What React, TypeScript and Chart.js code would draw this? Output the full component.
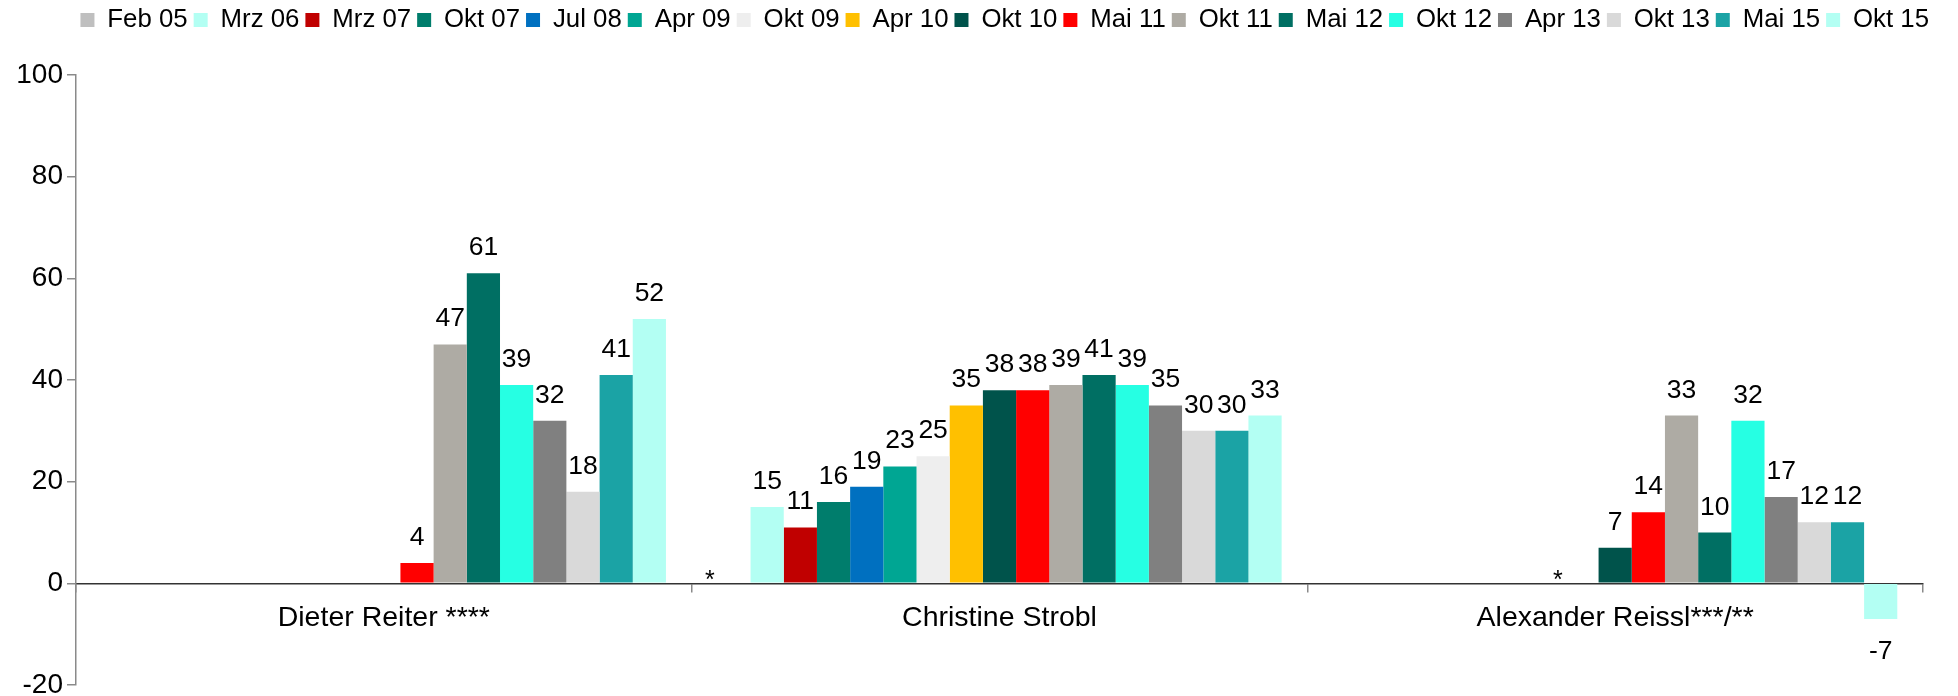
import React, { useEffect, useRef } from 'react';
import { Chart, registerables } from 'chart.js';

Chart.register(...registerables);

const FONT = "'Liberation Sans', Arial, sans-serif";

// Categories (x axis)
const categories = ['Dieter Reiter ****', 'Christine Strobl', 'Alexander Reissl***/**'];

// Series (survey dates)
const seriesLabels = [
  'Feb 05', 'Mrz 06', 'Mrz 07', 'Okt 07', 'Jul 08', 'Apr 09', 'Okt 09', 'Apr 10',
  'Okt 10', 'Mai 11', 'Okt 11', 'Mai 12', 'Okt 12', 'Apr 13', 'Okt 13', 'Mai 15', 'Okt 15',
];

const seriesColors = [
  '#BFBFBF', '#B3FFF3', '#C00000', '#007D6C', '#0070C0', '#00A693', '#EEEEEE', '#FFC000',
  '#00534B', '#FF0000', '#AEABA4', '#006F63', '#26FFE3', '#808080', '#D9D9D9', '#1BA3A5', '#B3FFF3',
];

// Values per series: [Dieter Reiter, Christine Strobl, Alexander Reissl]
const feb05 = [null, null, null];
const mrz06 = [null, 15, null];
const mrz07 = [null, 11, null];
const okt07 = [null, 16, null];
const jul08 = [null, 19, null];
const apr09 = [null, 23, null];
const okt09 = [null, 25, null];
const apr10 = [null, 35, null];
const okt10 = [null, 38, 7];
const mai11 = [4, 38, 14];
const okt11 = [47, 39, 33];
const mai12 = [61, 41, 10];
const okt12 = [39, 39, 32];
const apr13 = [32, 35, 17];
const okt13 = [18, 30, 12];
const mai15 = [41, 30, 12];
const okt15 = [52, 33, -7];

const seriesValues = [
  feb05, mrz06, mrz07, okt07, jul08, apr09, okt09, apr10,
  okt10, mai11, okt11, mai12, okt12, apr13, okt13, mai15, okt15,
];

// "*" markers: [category index, series index]
const starMarks = [
  [1, 0],
  [2, 7],
];

// Y axis ticks
const yMin = -20;
const yMax = 100;
const yStep = 20;

const valueLabelPlugin = {
  id: 'valueLabels',
  afterDatasetsDraw(chart: any) {
    const ctx = chart.ctx;
    ctx.save();
    ctx.font = `26.5px ${FONT}`;
    ctx.fillStyle = '#000000';
    ctx.textAlign = 'center';
    ctx.textBaseline = 'alphabetic';
    chart.data.datasets.forEach((ds: any, di: number) => {
      const meta = chart.getDatasetMeta(di);
      meta.data.forEach((el: any, i: number) => {
        const v = ds.data[i];
        if (v === null || v === undefined) return;
        if (v >= 0) ctx.fillText(String(v), el.x, el.y - 18);
        else ctx.fillText(String(v), el.x, el.y + 40);
      });
    });
    ctx.font = `25px ${FONT}`;
    const zeroY = chart.scales.y.getPixelForValue(0);
    starMarks.forEach(([cat, ser]) => {
      const el = chart.getDatasetMeta(ser).data[cat];
      if (el) ctx.fillText('*', el.x - 24, zeroY + 5);
    });
    ctx.restore();
  },
};

export default function App() {
  const canvasRef = useRef<HTMLCanvasElement | null>(null);

  useEffect(() => {
    const canvas = canvasRef.current;
    if (!canvas) return;
    const chart = new Chart(canvas, {
      type: 'bar',
      data: {
        labels: categories,
        datasets: seriesLabels.map((label, i) => ({
          label,
          data: seriesValues[i],
          backgroundColor: seriesColors[i],
          borderWidth: 0,
          categoryPercentage: 0.9165,
          barPercentage: 1.0,
        })),
      },
      options: {
        responsive: false,
        animation: false,
        devicePixelRatio: 1,
        layout: { padding: { left: 9, right: 23, top: 1, bottom: 11 } },
        plugins: {
          legend: {
            display: true,
            position: 'top',
            align: 'end',
            labels: {
              boxWidth: 14,
              boxHeight: 14,
              padding: 6,
              color: '#000000',
              font: { family: FONT, size: 25.8 },
            },
          },
          tooltip: { enabled: false },
        },
        scales: {
          x: {
            type: 'category',
            position: { y: 0 },
            offset: true,
            grid: {
              offset: true,
              drawOnChartArea: false,
              drawTicks: true,
              tickLength: 8,
              color: '#8a8a8a',
              lineWidth: 1.5,
            },
            border: { display: true, color: '#333333', width: 1.5 },
            ticks: {
              color: '#000000',
              padding: 10,
              maxRotation: 0,
              autoSkip: false,
              font: { family: FONT, size: 28.5 },
            },
          },
          xTop: {
            axis: 'x',
            type: 'category',
            position: 'top',
            display: true,
            grid: { display: false, drawTicks: false },
            border: { display: false },
            ticks: { display: false },
            afterFit: (s: any) => {
              const lg = s.chart.legend;
              const lh = lg ? lg.height : 0;
              s.height = Math.max(0, 75 - 1 - lh);
            },
          },
          y: {
            type: 'linear',
            position: 'left',
            min: yMin,
            max: yMax,
            grid: {
              drawOnChartArea: false,
              drawTicks: true,
              tickLength: 9,
              color: '#8a8a8a',
              lineWidth: 1.5,
            },
            border: { display: true, color: '#8a8a8a', width: 1.5 },
            ticks: {
              stepSize: yStep,
              color: '#000000',
              padding: 4,
              font: { family: FONT, size: 28 },
            },
            afterFit: (s: any) => {
              s.width = 67;
              s.paddingTop = 0;
              s.paddingBottom = 0;
            },
          },
          yRight: {
            axis: 'y',
            type: 'linear',
            position: 'right',
            display: true,
            grid: { display: false, drawTicks: false },
            border: { display: false },
            ticks: { display: false },
            afterFit: (s: any) => {
              s.width = 12;
              s.paddingTop = 0;
              s.paddingBottom = 0;
            },
          },
        },
      } as any,
      plugins: [valueLabelPlugin],
    });
    return () => chart.destroy();
  }, []);

  return (
    <div style={{ position: 'absolute', left: 0, top: 0, width: 1958, height: 696, background: '#ffffff' }}>
      <canvas ref={canvasRef} width={1958} height={696} style={{ display: 'block' }} />
    </div>
  );
}
